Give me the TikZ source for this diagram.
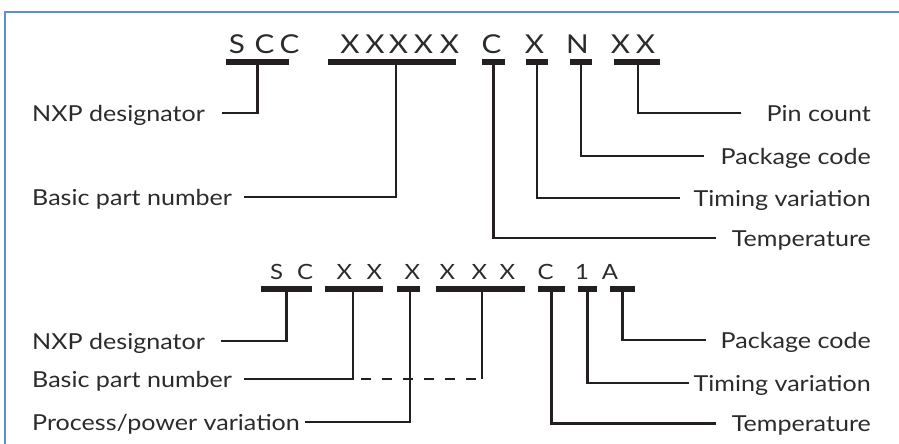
\documentclass[tikz,border=0pt]{standalone}
\usepackage{fontspec}
\setmainfont{Lato}[FakeStretch=1.14]
\definecolor{lc}{HTML}{231F20}
\definecolor{txt}{HTML}{2B2B2B}
\definecolor{frame}{HTML}{5E8FD4}
\begin{document}
\begin{tikzpicture}[x=1pt,y=-1pt,
  lbl/.style={inner sep=0pt, text=txt, font=\fontsize{22}{24}\selectfont},
  codeA/.style={inner sep=0pt, text=txt, anchor=base, font=\fontsize{26}{28}\selectfont},
  codeB/.style={inner sep=0pt, text=txt, anchor=base, font=\fontsize{21}{24}\selectfont},
  bar/.style={fill=lc, draw=none, inner sep=0pt, minimum height=5.5pt},
  conn/.style={draw=lc, line width=2.5pt},
  border/.style={draw=frame, line width=2pt}]
\useasboundingbox (0,0) rectangle (899,444);
\draw[border] (5,444) -- (5,12.5) -- (899,12.5);

% ---------- top code ----------
\foreach \n/\x/\ch in {ta1/237/S, ta2/264.5/C, ta3/289.5/C,
  ta4/350/X, ta5/375/X, ta6/398.5/X, ta7/423.5/X, ta8/449.5/X,
  ta9/491.5/C, ta10/534.5/X, ta11/577.5/N, ta12/620.5/X, ta13/645.5/X}
  \node[codeA] (\n) at (\x,53) {\ch};

\node[bar, minimum width=63pt]  (tb1) at (257.5,62) {};
\node[bar, minimum width=128pt] (tb2) at (392,62) {};
\node[bar, minimum width=23pt]  (tb3) at (493.5,62) {};
\node[bar, minimum width=22pt]  (tb4) at (537,62) {};
\node[bar, minimum width=22pt]  (tb5) at (581,62) {};
\node[bar, minimum width=46pt]  (tb6) at (637,62) {};

\node[lbl, anchor=base west] (tl1) at (32,121) {NXP designator};
\node[lbl, anchor=base west] (tl2) at (32,205) {Basic part number};
\node[lbl, anchor=base east] (tl3) at (871,246) {Temperature};
\node[lbl, anchor=base east] (tl4) at (871,206) {Timing variation};
\node[lbl, anchor=base east] (tl5) at (871,164) {Package code};
\node[lbl, anchor=base east] (tl6) at (871,121) {Pin count};

\coordinate (tc1) at (222,113);
\coordinate (tc2) at (244,197);
\coordinate (tc3) at (716,238);
\coordinate (tc4) at (680,198);
\coordinate (tc5) at (704,156);
\coordinate (tc6) at (741,113);

\draw[conn] (tc1) -| (tb1.south);
\draw[conn] (tc2) -| ([xshift=4pt]tb2.south);
\draw[conn] (tc3) -| (tb3.south);
\draw[conn] (tc4) -| (tb4.south);
\draw[conn] (tc5) -| (tb5.south);
\draw[conn] (tc6) -| ([xshift=1pt]tb6.south);

% ---------- bottom code ----------
\foreach \n/\x/\ch in {ba1/276.5/S, ba2/305/C, ba3/344.5/X, ba4/374.5/X,
  ba5/412.5/X, ba6/447.5/X, ba7/479.5/X, ba8/507.5/X,
  ba9/545.5/C, ba10/582/1, ba11/610/A}
  \node[codeB] (\n) at (\x,279) {\ch};

\node[bar, minimum width=51pt] (bb1) at (286.5,289) {};
\node[bar, minimum width=58pt] (bb2) at (354,289) {};
\node[bar, minimum width=23pt] (bb3) at (408.5,289) {};
\node[bar, minimum width=89pt] (bb4) at (480.5,289) {};
\node[bar, minimum width=27pt] (bb5) at (551.5,289) {};
\node[bar, minimum width=19pt] (bb6) at (587.5,289) {};
\node[bar, minimum width=25pt] (bb7) at (622.5,289) {};

\node[lbl, anchor=base west] (bl1) at (32,349) {NXP designator};
\node[lbl, anchor=base west] (bl2) at (32,387) {Basic part number};
\node[lbl, anchor=base west] (bl3) at (32,430) {Process/power variation};
\node[lbl, anchor=base east] (bl5) at (871,431.5) {Temperature};
\node[lbl, anchor=base east] (bl6) at (871,391) {Timing variation};
\node[lbl, anchor=base east] (bl7) at (871,348) {Package code};

\coordinate (bc1) at (221,341);
\coordinate (bc2) at (244,379);
\coordinate (bc3) at (305,422);
\coordinate (bc5) at (716,423.5);
\coordinate (bc6) at (689,383);
\coordinate (bc7) at (706,340);

\draw[conn] (bc1) -| (bb1.south);
\draw[conn] (bc2) -| ([xshift=-1pt]bb2.south);
\draw[conn, dash pattern=on 10pt off 11pt, dash phase=13pt]
  ([xshift=-1pt]bb2.south |- bc2) -- ([xshift=1.5pt]bb4.south |- bc2);
\draw[conn] ([xshift=1.5pt]bb4.south) -- ([xshift=1.5pt]bb4.south |- bc2);
\draw[conn] (bc3) -| ([xshift=1.5pt]bb3.south);
\draw[conn] (bc5) -| (bb5.south);
\draw[conn] (bc6) -| (bb6.south);
\draw[conn] (bc7) -| (bb7.south);
\end{tikzpicture}
\end{document}
